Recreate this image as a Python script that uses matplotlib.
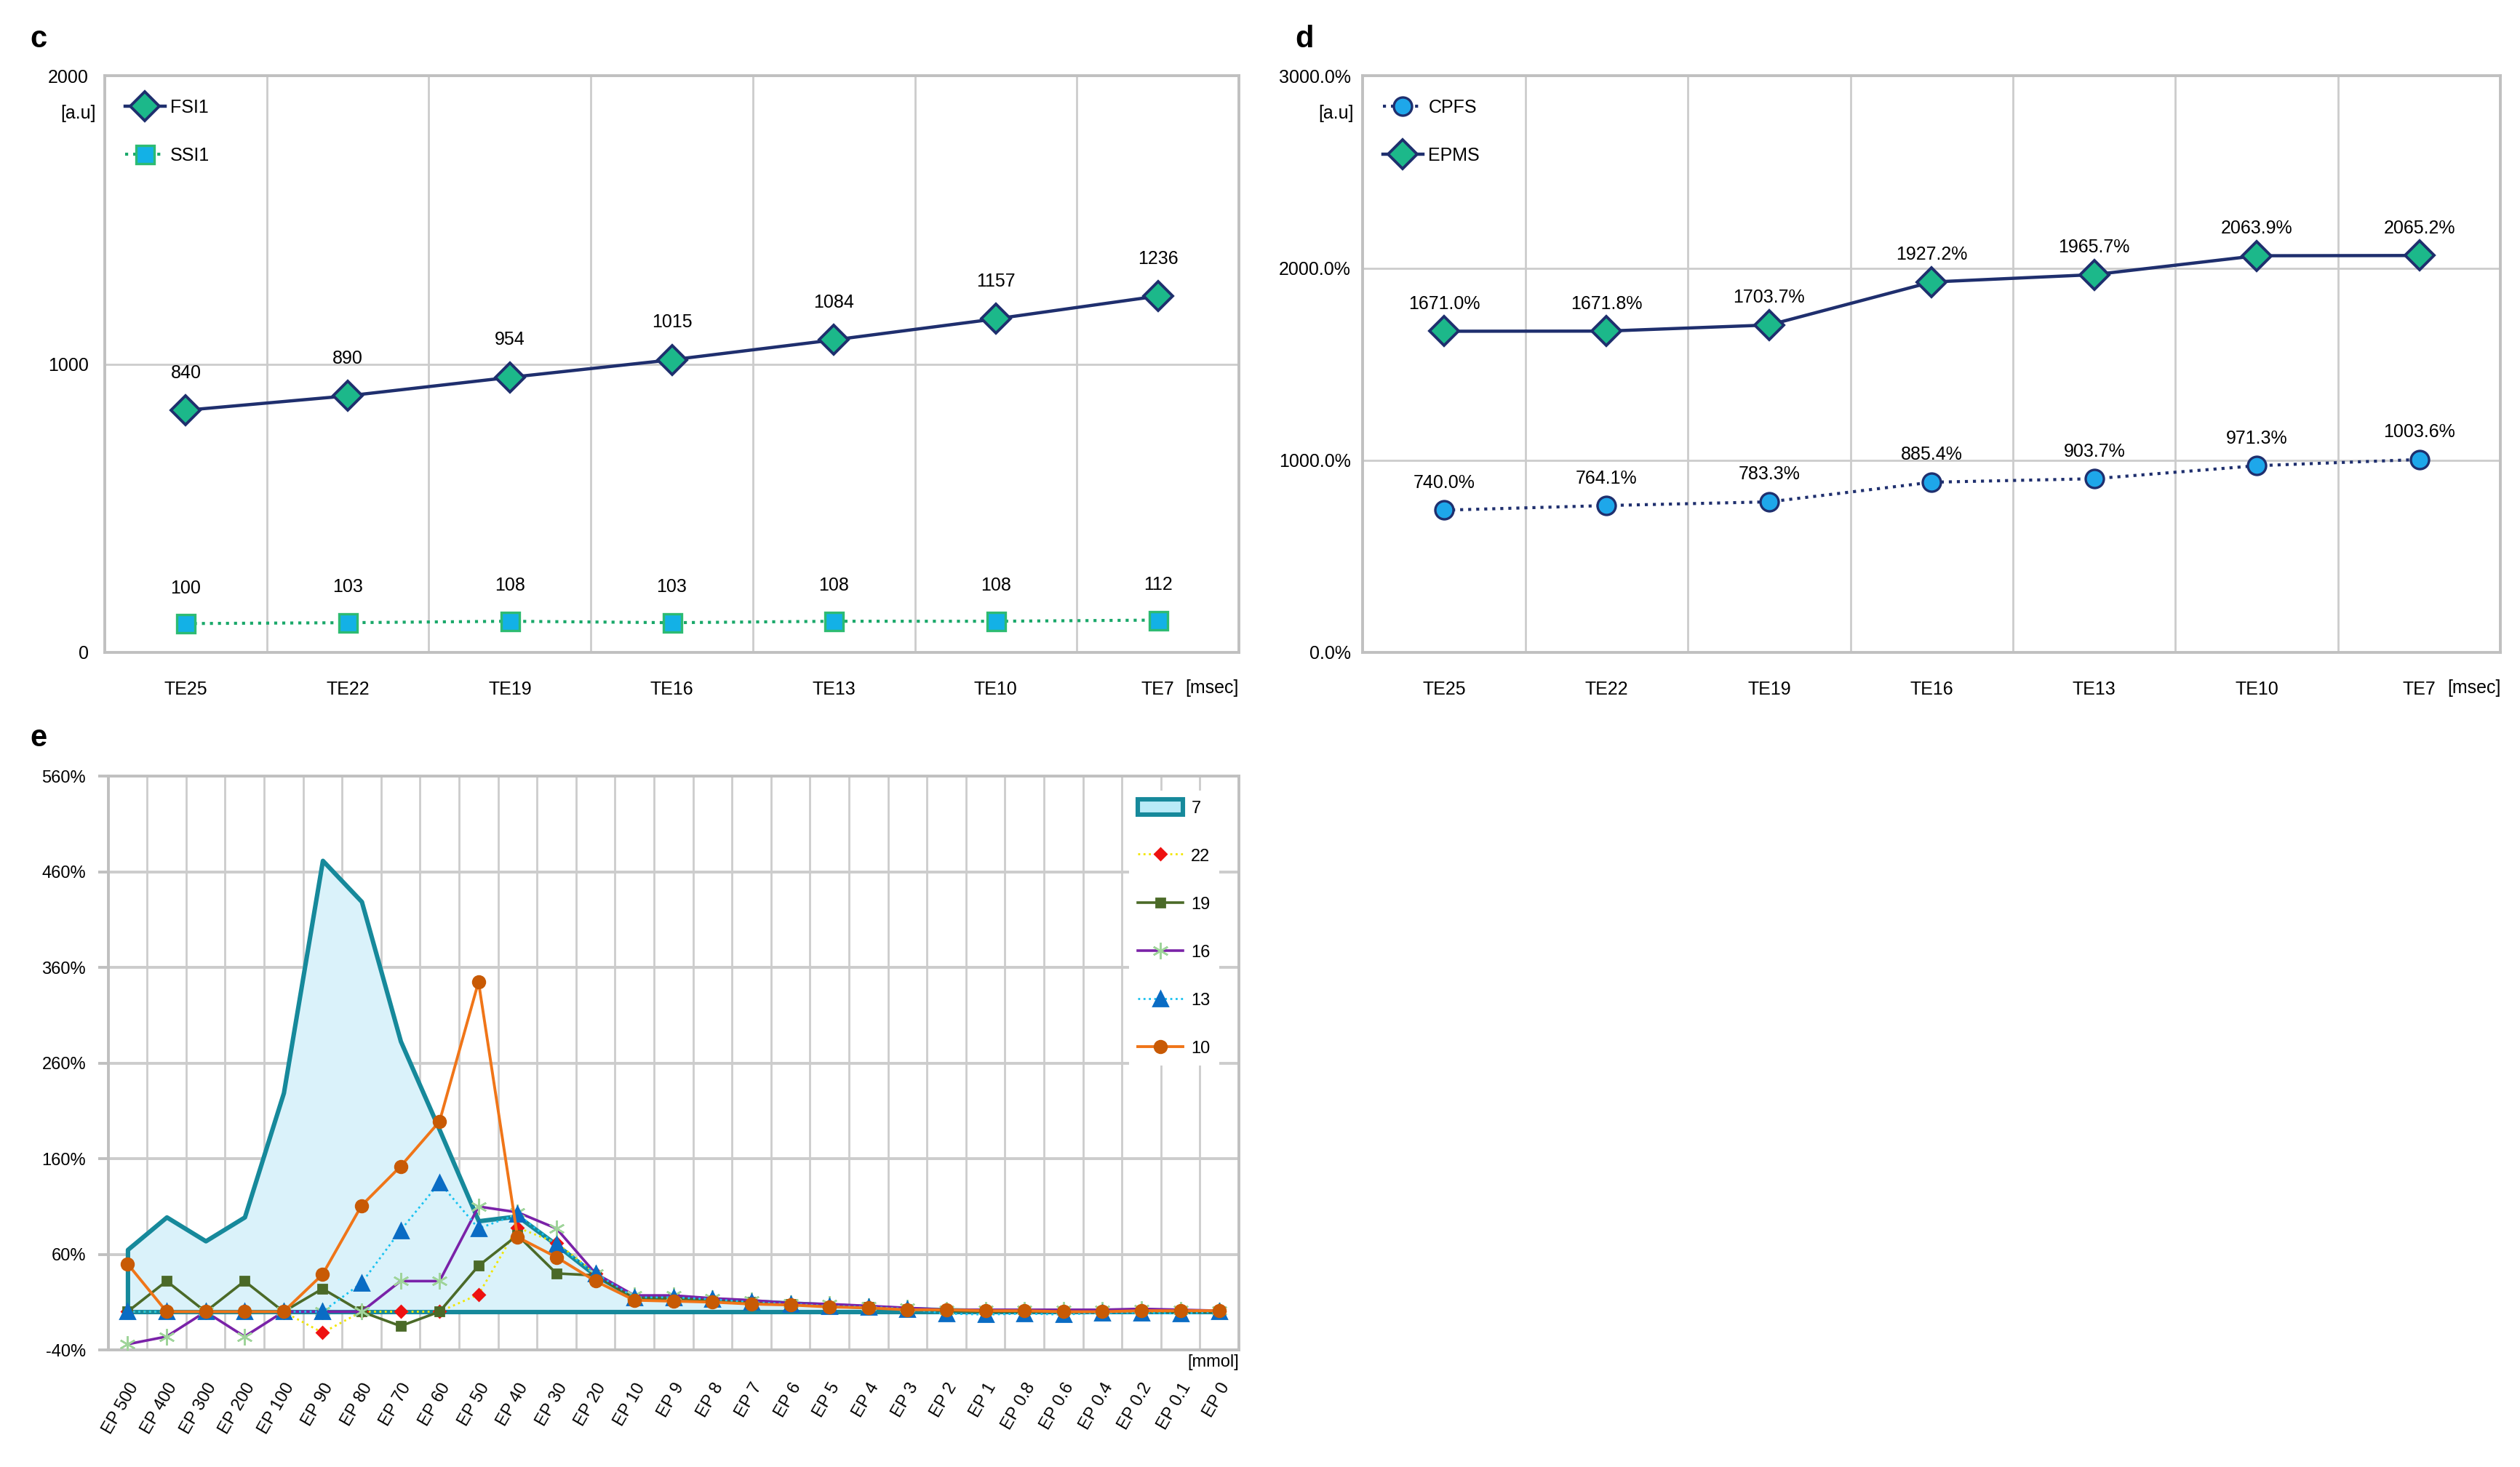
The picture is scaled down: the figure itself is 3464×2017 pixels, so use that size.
import matplotlib
matplotlib.use('Agg')
import matplotlib.pyplot as plt
from matplotlib.patches import Patch
from matplotlib.lines import Line2D

plt.rcParams['font.family'] = ['Liberation Sans', 'DejaVu Sans']
plt.rcParams['font.size'] = 9

# panel c / d data
te_labels = ['TE25', 'TE22', 'TE19', 'TE16', 'TE13', 'TE10', 'TE7']
fsi1 = [840, 890, 954, 1015, 1084, 1157, 1236]
ssi1 = [100, 103, 108, 103, 108, 108, 112]
cpfs = [740.0, 764.1, 783.3, 885.4, 903.7, 971.3, 1003.6]
epms = [1671.0, 1671.8, 1703.7, 1927.2, 1965.7, 2063.9, 2065.2]

# panel e data
ep_labels = ['EP 500', 'EP 400', 'EP 300', 'EP 200', 'EP 100', 'EP 90', 'EP 80', 'EP 70',
             'EP 60', 'EP 50', 'EP 40', 'EP 30', 'EP 20', 'EP 10', 'EP 9', 'EP 8', 'EP 7',
             'EP 6', 'EP 5', 'EP 4', 'EP 3', 'EP 2', 'EP 1', 'EP 0.8', 'EP 0.6', 'EP 0.4',
             'EP 0.2', 'EP 0.1', 'EP 0']
s7 = [65, 99, 74, 99, 229, 472, 429, 283, 190, 95, 100, 70, 38, 15, 15, 13, 11, 9, 7, 5,
      3, 2, 1, 1, 1, 0.5, 0.5, 0.5, 0.5]
s22 = [0, 0, 0, 0, 0, -22, 0, 0, 0, 18, 88, 72, 40, 14, 14, 12, 10, 8, 6, 5, 3, 1, 0, 0,
       0, 0, 0, 0, 0]
s19 = [0, 32, 0, 32, 0, 24, 0, -15, 0, 48, 80, 40, 38, 14, 14, 12, 10, 8, 6, 5, 3, 1, 0,
       0, 0, 0, 1, 0, 0]
s16 = [-34, -26, 0, -26, 0, 0, 0, 32, 32, 110, 104, 87, 40, 17, 17, 14, 12, 9, 8, 6, 4, 2,
       2, 2, 2, 2, 3, 2, 1]
s13 = [0, 0, 0, 0, 0, 0, 30, 85, 135, 87, 102, 70, 40, 15, 15, 13, 10, 8, 6, 5, 3, -2, -3,
       -2, -3, -1, -1, -2, 0]
s10 = [50, 0, 0, 0, 0, 39, 111, 152, 199, 345, 78, 57, 32, 12, 11, 10, 8, 7, 5, 4, 2, 2, 1,
       1, 0, 0, 1, 1, 1]

navy = '#1f2f6e'
teal_green = '#1cb88a'
grid_c = '#cccccc'
spine_c = '#c0c0c0'

fig = plt.figure(figsize=(17.32, 10.085), dpi=200)


def frame(ax, n):
    for s in ax.spines.values():
        s.set_color(spine_c)
        s.set_linewidth(1.4)
    ax.set_xlim(-0.5, n - 0.5)
    for k in range(1, n):
        ax.axvline(k - 0.5, color=grid_c, lw=1.0, zorder=0)


# ---- panel c
axc = fig.add_axes([0.0416, 0.5553, 0.450, 0.393])
x = list(range(len(te_labels)))
frame(axc, len(x))
axc.set_ylim(0, 2000)
axc.set_yticks([0, 1000, 2000])
axc.yaxis.grid(True, color=grid_c, lw=1.0)
axc.set_axisbelow(True)
axc.plot(x, fsi1, color=navy, lw=1.6, marker='D', ms=10, mfc=teal_green, mec=navy,
         mew=1.4, label='FSI1', zorder=3)
axc.plot(x, ssi1, color='#1aa86a', lw=1.5, ls=':', marker='s', ms=9, mfc='#13b1e6',
         mec='#2dbb72', mew=1.2, label='SSI1', zorder=3)
for xi, v in zip(x, fsi1):
    axc.annotate(str(v), (xi, v), xytext=(0, 16), textcoords='offset points', ha='center')
for xi, v in zip(x, ssi1):
    axc.annotate(str(v), (xi, v), xytext=(0, 15), textcoords='offset points', ha='center')
axc.set_xticks(x)
axc.set_xticklabels(te_labels)
axc.tick_params(length=0, pad=14, labelsize=9)
axc.tick_params(axis='y', pad=8)
axc.text(-0.008, 0.935, '[a.u]', transform=axc.transAxes, ha='right', va='center')
axc.text(1.0, -0.062, '[msec]', transform=axc.transAxes, ha='right', va='center')
axc.legend(loc='upper left', bbox_to_anchor=(0.0, 0.995), frameon=False, handlelength=2.2,
           labelspacing=1.7, handletextpad=0.3, borderpad=0.6)
fig.text(0.012, 0.973, 'c', fontsize=15, fontweight='bold', va='center')

# ---- panel d
axd = fig.add_axes([0.5408, 0.5553, 0.4515, 0.393])
frame(axd, len(x))
axd.set_ylim(0, 3000)
axd.set_yticks([0, 1000, 2000, 3000])
axd.set_yticklabels(['0.0%', '1000.0%', '2000.0%', '3000.0%'])
axd.yaxis.grid(True, color=grid_c, lw=1.0)
axd.set_axisbelow(True)
axd.plot(x, cpfs, color=navy, lw=1.5, ls=':', marker='o', ms=9, mfc='#1ea7ea', mec=navy,
         mew=1.2, label='CPFS', zorder=3)
axd.plot(x, epms, color=navy, lw=1.6, marker='D', ms=10, mfc=teal_green, mec=navy,
         mew=1.4, label='EPMS', zorder=3)
for xi, v in zip(x, cpfs):
    axd.annotate('%.1f%%' % v, (xi, v), xytext=(0, 11), textcoords='offset points', ha='center')
for xi, v in zip(x, epms):
    axd.annotate('%.1f%%' % v, (xi, v), xytext=(0, 11), textcoords='offset points', ha='center')
axd.set_xticks(x)
axd.set_xticklabels(te_labels)
axd.tick_params(length=0, pad=14, labelsize=9)
axd.tick_params(axis='y', pad=6)
axd.text(-0.008, 0.935, '[a.u]', transform=axd.transAxes, ha='right', va='center')
axd.text(1.0, -0.062, '[msec]', transform=axd.transAxes, ha='right', va='center')
axd.legend(loc='upper left', bbox_to_anchor=(0.0, 0.995), frameon=False, handlelength=2.2,
           labelspacing=1.7, handletextpad=0.3, borderpad=0.6)
fig.text(0.514, 0.973, 'd', fontsize=15, fontweight='bold', va='center')

# ---- panel e
axe = fig.add_axes([0.0429, 0.0798, 0.4487, 0.391])
xe = list(range(len(ep_labels)))
frame(axe, len(xe))
axe.set_ylim(-40, 560)
axe.set_yticks(list(range(-40, 561, 100)))
axe.set_yticklabels(['%d%%' % v for v in range(-40, 561, 100)])
axe.yaxis.grid(True, color=grid_c, lw=1.4)
axe.set_axisbelow(True)
axe.fill_between(xe, 0, s7, facecolor='#daf2fa', edgecolor='#16899b', lw=2.2, zorder=1)
axe.plot(xe, s22, color='#f2e600', lw=1.0, ls=':', marker='D', ms=4, mfc='#ee1111',
         mec='#ee1111', zorder=3)
axe.plot(xe, s19, color='#4b6a28', lw=1.3, marker='s', ms=4.5, mfc='#4b6a28',
         mec='#4b6a28', zorder=3)
axe.plot(xe, s16, color='#7a22a8', lw=1.3, marker=(6, 2, 0), ms=8, mec='#9fd49a',
         mew=0.9, zorder=3)
axe.plot(xe, s13, color='#18c2f0', lw=1.0, ls=':', marker='^', ms=7.5, mfc='#0a6cc4',
         mec='#0a6cc4', zorder=3)
axe.plot(xe, s10, color='#f07518', lw=1.4, marker='o', ms=6, mfc='#c85a05', mec='#c85a05',
         zorder=4)
axe.set_xticks(xe)
axe.set_xticklabels(ep_labels, rotation=60, ha='right', rotation_mode='anchor')
axe.tick_params(axis='x', length=0, pad=15, labelsize=8.5)
axe.tick_params(axis='y', length=5, color=spine_c, width=1.4, pad=6, labelsize=8.5)
axe.text(1.0, -0.008, '[mmol]', transform=axe.transAxes, ha='right', va='top', fontsize=8.5)
handles = [
    Patch(facecolor='#b9ebf8', edgecolor='#16899b', lw=2.2),
    Line2D([], [], color='#f2e600', lw=1.0, ls=':', marker='D', ms=4, mfc='#ee1111', mec='#ee1111'),
    Line2D([], [], color='#4b6a28', lw=1.3, marker='s', ms=4.5, mfc='#4b6a28', mec='#4b6a28'),
    Line2D([], [], color='#7a22a8', lw=1.3, marker=(6, 2, 0), ms=8, mec='#9fd49a', mew=0.9),
    Line2D([], [], color='#18c2f0', lw=1.0, ls=':', marker='^', ms=7.5, mfc='#0a6cc4', mec='#0a6cc4'),
    Line2D([], [], color='#f07518', lw=1.4, marker='o', ms=6, mfc='#c85a05', mec='#c85a05'),
]
leg = axe.legend(handles, ['7', '22', '19', '16', '13', '10'], loc='upper right',
                 bbox_to_anchor=(0.99, 0.99), frameon=True, facecolor='white',
                 edgecolor='none', fancybox=False, framealpha=1, handlelength=2.6,
                 handleheight=1.0, labelspacing=1.8, handletextpad=0.5, borderpad=0.5,
                 fontsize=8.5)
fig.text(0.012, 0.497, 'e', fontsize=15, fontweight='bold', va='center')

fig.savefig('out.png', dpi=200)
